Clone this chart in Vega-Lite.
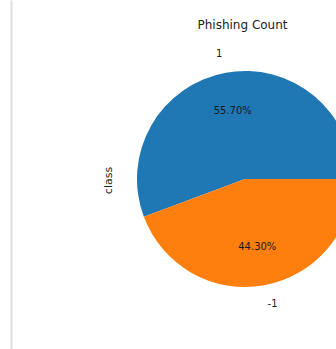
{
  "$schema": "https://vega.github.io/schema/vega-lite/v6.json",
  "width": 325,
  "height": 349,
  "autosize": {"type": "none"},
  "padding": {"left": 11, "top": 0, "right": 0, "bottom": 0},
  "background": "white",
  "config": {"view": {"stroke": null}},
  "title": {"text": "Phishing Count", "font": "DejaVu Sans", "fontSize": 12, "fontWeight": "normal", "color": "#222222", "anchor": "middle", "dx": 69, "offset": 0, "baseline": "alphabetic", "dy": 41},
  "data": {"values": [{"class": "1", "share": 0.557}, {"class": "-1", "share": 0.443}]},
  "encoding": {
    "theta": {"field": "share", "type": "quantitative", "stack": true, "scale": {"range": [1.5708, 7.854]}},
    "order": {"field": "class", "sort": "ascending"},
    "detail": {"field": "class"},
    "x": {"datum": 0, "type": "quantitative", "scale": {"domain": [-2.1667, 0.8426]}, "axis": null},
    "y": {"datum": 0, "type": "quantitative", "scale": {"domain": [-1.5741, 1.6574]}, "axis": {"title": "class", "labels": false, "ticks": false, "grid": false, "domainColor": "#dddddd", "domainWidth": 2, "titleX": 102, "titleY": 180, "titleFont": "DejaVu Sans", "titleFontSize": 11, "titleFontWeight": "normal", "titleColor": "#222222"}}
  },
  "layer": [
    {"mark": {"type": "arc", "outerRadius": 108}, "encoding": {"color": {"field": "class", "type": "nominal", "scale": {"domain": ["1", "-1"], "range": ["#1f77b4", "#ff7f0e"]}, "legend": null}}},
    {"mark": {"type": "text", "radius": 69, "font": "DejaVu Sans", "fontSize": 10, "color": "#1a1a1a"}, "encoding": {"text": {"field": "share", "type": "quantitative", "format": ".2%"}}},
    {"mark": {"type": "text", "radius": 127, "align": "right", "font": "DejaVu Sans", "fontSize": 10, "color": "#1a1a1a"}, "encoding": {"text": {"field": "class", "type": "nominal"}, "opacity": {"condition": {"test": "datum['class'] == '1'", "value": 1}, "value": 0}}},
    {"mark": {"type": "text", "radius": 127, "align": "left", "font": "DejaVu Sans", "fontSize": 10, "color": "#1a1a1a"}, "encoding": {"text": {"field": "class", "type": "nominal"}, "opacity": {"condition": {"test": "datum['class'] == '-1'", "value": 1}, "value": 0}}}
  ]
}
